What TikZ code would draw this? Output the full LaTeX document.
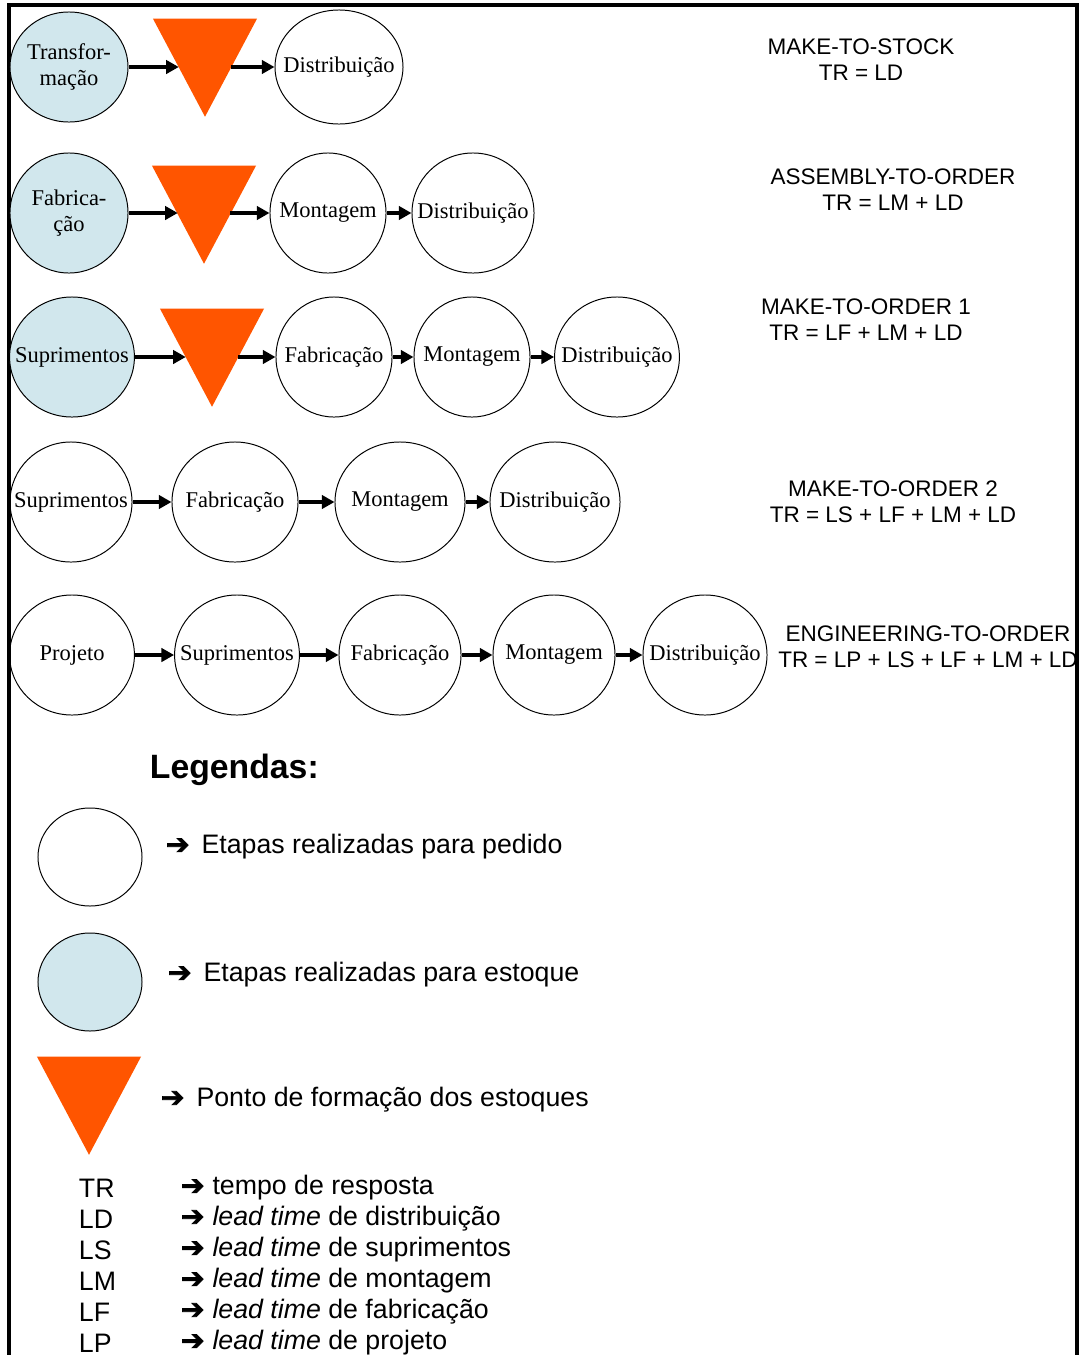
\documentclass[tikz,border=0pt]{standalone}
\usepackage{fontspec}
\setmainfont{Liberation Serif}
\setsansfont{Liberation Sans}
\newfontfamily\setafont[FakeBold=2.5]{DejaVu Sans}
\usetikzlibrary{arrows.meta, shapes.geometric}

\definecolor{azulclaro}{RGB}{209,231,237}
\definecolor{laranja}{RGB}{255,85,0}

\tikzset{
  etapa/.style={ellipse, draw, line width=0.7pt, inner sep=0pt, minimum width=3.05cm, minimum height=3cm,
    label={[font=\fontsize{16}{18}\selectfont, align=center]center:#1}},
  paraestoque/.style={fill=azulclaro},
  estoque/.style={isosceles triangle, shape border rotate=-90, isosceles triangle stretches, fill=laranja,
    inner sep=0pt, minimum width=2.6cm, minimum height=2.45cm},
  seta/.style={line width=2.2pt, -{Triangle[length=9pt, width=9.5pt]}},
  sistema/.style={font=\sffamily\fontsize{16}{18.5}\selectfont, align=center},
  legenda/.style={font=\sffamily\fontsize{19}{22}\selectfont, anchor=west}
}
\newcommand{\seta}{{\setafont\fontsize{20}{22}\selectfont ➔}}

\begin{document}
\begin{tikzpicture}[x=0.025cm, y=-0.025cm]
    \useasboundingbox (0,0) rectangle (1083,1355);
    \draw [line width=2.2pt] (9,1356) -- (9,5) -- (1077,5) -- (1077,1356);

    % make-to-stock
    \node [etapa={Transfor-\\mação}, paraestoque, minimum width=2.95cm, minimum height=2.75cm] (t1) at (69,67) {};
    \node [estoque] (e1) at (205,50) {};
    \node [etapa=Distribuição, minimum width=3.2cm, minimum height=2.85cm] (d1) at (339,67) {};
    \draw [seta] (t1) -- (t1 -| e1.right side);
    \draw [seta] (e1.left side |- d1) -- (d1);
    \node [sistema] (mts) at (861,60) {MAKE-TO-STOCK\\TR = LD};

    % assembly-to-order
    \node [etapa={Fabrica-\\ção}, paraestoque, minimum width=2.95cm] (f2) at (69,213) {};
    \node [estoque] (e2) at (204,197) {};
    \node [etapa=Montagem, minimum width=2.9cm] (m2) at (328,213) {};
    \node [etapa=Distribuição] (d2) at (473,213) {};
    \draw [seta] (f2) -- (f2 -| e2.right side);
    \draw [seta] (e2.left side |- m2) -- (m2);
    \draw [seta] (m2) -- (d2);
    \node [sistema] (ato) at (893,190) {ASSEMBLY-TO-ORDER\\TR = LM + LD};

    % make-to-order 1
    \node [etapa=Suprimentos, paraestoque, minimum width=3.12cm] (s3) at (72,357) {};
    \node [estoque] (e3) at (212,340) {};
    \node [etapa=Fabricação, minimum width=2.9cm] (f3) at (334,357) {};
    \node [etapa=Montagem, minimum width=2.9cm] (m3) at (472,357) {};
    \node [etapa=Distribuição, minimum width=3.12cm] (d3) at (617,357) {};
    \draw [seta] (s3) -- (s3 -| e3.right side);
    \draw [seta] (e3.left side |- f3) -- (f3);
    \draw [seta] (f3) -- (m3);
    \draw [seta] (m3) -- (d3);
    \node [sistema] (mto1) at (866,320) {MAKE-TO-ORDER 1\\TR = LF + LM + LD};

    % make-to-order 2
    \node [etapa=Suprimentos] (s4) at (71,502) {};
    \node [etapa=Fabricação, minimum width=3.15cm] (f4) at (235,502) {};
    \node [etapa=Montagem, minimum width=3.25cm] (m4) at (400,502) {};
    \node [etapa=Distribuição, minimum width=3.25cm] (d4) at (555,502) {};
    \draw [seta] (s4) -- (f4);
    \draw [seta] (f4) -- (m4);
    \draw [seta] (m4) -- (d4);
    \node [sistema] (mto2) at (893,502) {MAKE-TO-ORDER 2\\TR = LS + LF + LM + LD};

    % engineering-to-order
    \node [etapa=Projeto, minimum width=3.12cm] (p5) at (72,655) {};
    \node [etapa=Suprimentos, minimum width=3.12cm] (s5) at (237,655) {};
    \node [etapa=Fabricação] (f5) at (400,655) {};
    \node [etapa=Montagem] (m5) at (554,655) {};
    \node [etapa=Distribuição, minimum width=3.1cm] (d5) at (705,655) {};
    \draw [seta] (p5) -- (s5);
    \draw [seta] (s5) -- (f5);
    \draw [seta] (f5) -- (m5);
    \draw [seta] (m5) -- (d5);
    \node [sistema] (eto) at (928,647) {ENGINEERING-TO-ORDER\\TR = LP + LS + LF + LM + LD};

    % legendas
    \node [legenda, font=\sffamily\bfseries\fontsize{24}{28}\selectfont] (leg) at (145,770) {Legendas:};
    \node [etapa={}, minimum width=2.6cm, minimum height=2.45cm] (lped) at (90,857) {};
    \node [legenda] (tped) at (161,847) {\seta\hspace{0.45em}Etapas realizadas para pedido};
    \node [etapa={}, paraestoque, minimum width=2.6cm, minimum height=2.45cm] (lest) at (90,982) {};
    \node [legenda] (test) at (163,975) {\seta\hspace{0.45em}Etapas realizadas para estoque};
    \node [estoque] (ltri) at (89,1088) {};
    \node [legenda] (ttri) at (156,1100) {\seta\hspace{0.45em}Ponto de formação dos estoques};

    \foreach \sig/\desc [count=\k] in {TR/tempo de resposta, LD/\textit{lead time} de distribuição, LS/\textit{lead time} de suprimentos, LM/\textit{lead time} de montagem, LF/\textit{lead time} de fabricação, LP/\textit{lead time} de projeto}
      \node [legenda] (sig\k) at (74,1157+31*\k) {\sig} node [legenda] (desc\k) at (176,1157+31*\k) {\seta\hspace{0.3em}\desc};
  \end{tikzpicture}
\end{document}
